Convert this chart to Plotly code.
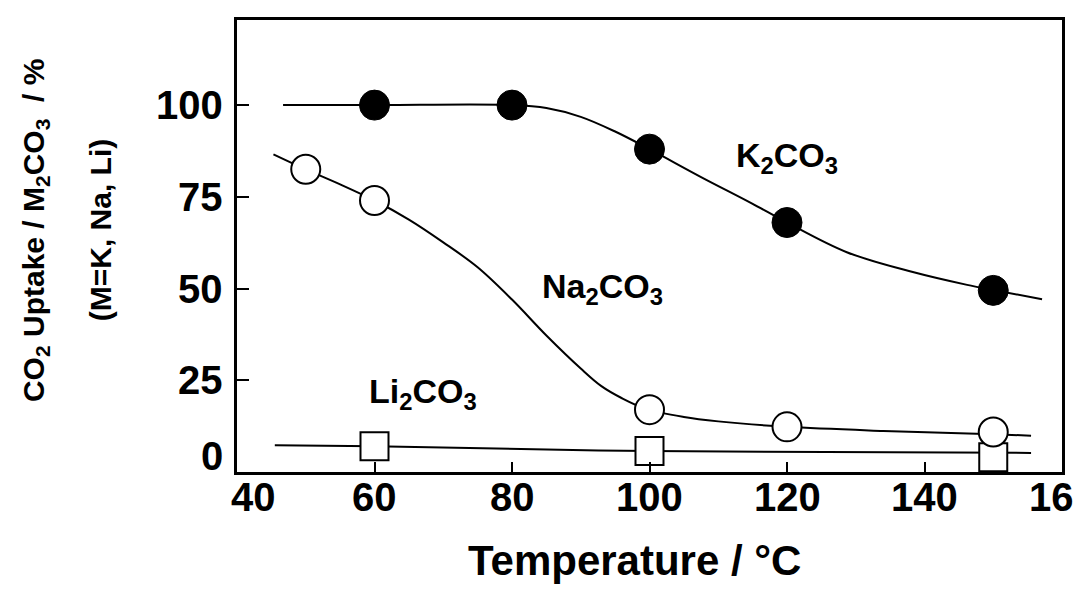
import plotly.graph_objects as go

# ---- data ----
temps_K = [60, 80, 100, 120, 150]
uptake_K = [100, 100, 88, 68, 49.5]
temps_Na = [50, 60, 100, 120, 150]
uptake_Na = [82.5, 74, 17, 12.3, 10.9]
temps_Li = [60, 100, 150]
uptake_Li = [7.0, 5.7, 4.0]

# hand-drawn guide curves
curveK_x = [46.7, 60, 80, 85, 90, 95, 100, 107.5, 114.8, 120, 128.7, 138.3, 146.2, 150, 157.1]
curveK_y = [100, 100, 100, 99.2, 96.8, 92.8, 88, 80.4, 73.3, 68, 59.9, 54.5, 51.0, 49.6, 47.1]
curveNa_x = [45.3, 50, 55, 60, 65, 70, 75, 80, 85, 90, 93, 96, 99.5, 105, 110, 120, 134, 150, 155.5]
curveNa_y = [86.6, 82.5, 78.4, 74, 68.8, 62.6, 55.8, 47.0, 37.2, 28.2, 23.4, 20.1, 17.2, 15.0, 13.8, 12.3, 11.2, 10.3, 9.9]
curveLi_x = [45.5, 60, 100, 155.5]
curveLi_y = [7.3, 7.0, 5.7, 5.2]

x_ticks = [40, 60, 80, 100, 120, 140, 160]
y_ticks = [0, 25, 50, 75, 100]

FONT = "Liberation Sans, Arial, Helvetica, sans-serif"

fig = go.Figure()

line_style = dict(color="black", width=2, shape="spline", smoothing=1.0)
fig.add_trace(go.Scatter(x=curveLi_x, y=curveLi_y, mode="lines", line=line_style, hoverinfo="skip"))
fig.add_trace(go.Scatter(x=curveNa_x, y=curveNa_y, mode="lines", line=line_style, hoverinfo="skip"))
fig.add_trace(go.Scatter(x=curveK_x, y=curveK_y, mode="lines", line=line_style, hoverinfo="skip"))

fig.add_trace(go.Scatter(x=temps_Li, y=uptake_Li, mode="markers",
                         marker=dict(symbol="square", size=28, color="white",
                                     line=dict(color="black", width=2))))
fig.add_trace(go.Scatter(x=temps_Na, y=uptake_Na, mode="markers",
                         marker=dict(symbol="circle", size=29, color="white",
                                     line=dict(color="black", width=2))))
fig.add_trace(go.Scatter(x=temps_K, y=uptake_K, mode="markers",
                         marker=dict(symbol="circle", size=30, color="black",
                                     line=dict(color="black", width=1))))

C = dict(xanchor="center", yanchor="middle", showarrow=False)

lab_font = dict(family=FONT, size=34, color="black")
fig.add_annotation(x=120, y=85.6, text="<b>K<sub>2</sub>CO<sub>3</sub></b>", font=lab_font, **C)
fig.add_annotation(x=93.2, y=50, text="<b>Na<sub>2</sub>CO<sub>3</sub></b>", font=lab_font, **C)
fig.add_annotation(x=67, y=21.5, text="<b>Li<sub>2</sub>CO<sub>3</sub></b>", font=lab_font, **C)

title_font = dict(family=FONT, size=30, color="black")
fig.add_annotation(xref="paper", yref="paper", x=-0.245, y=0.535, textangle=-90,
                   text="<b>CO<sub>2</sub> Uptake / M<sub>2</sub>CO<sub>3</sub>  / %</b>",
                   font=title_font, **C)
fig.add_annotation(xref="paper", yref="paper", x=-0.166, y=0.535, textangle=-90,
                   text="<b>(M=K, Na, Li)</b>", font=title_font, **C)
fig.add_annotation(xref="paper", yref="paper", x=0.482, y=-0.195,
                   text="<b>Temperature / °C</b>",
                   font=dict(family=FONT, size=42, color="black"), **C)

tick_font = dict(family=FONT, size=40, color="black")
for v in x_ticks:
    fig.add_annotation(x=v, xref="x", yref="paper", y=0, yshift=-25,
                       xshift=(16 if v == x_ticks[0] else 0),
                       text=f"<b>{v}</b>", font=tick_font,
                       xanchor="center", yanchor="middle", showarrow=False)
for v in y_ticks:
    fig.add_annotation(xref="paper", x=0, yref="y", y=v, xshift=-12,
                       yshift=(16 if v == y_ticks[0] else 0),
                       text=f"<b>{v}</b>", font=tick_font,
                       xanchor="right", yanchor="middle", showarrow=False)

# the page body has a default 8px margin; margins compensate so the box lands
# at x 237-1062, y 20-472 in the window
fig.update_layout(
    width=1082, height=596,
    margin=dict(l=229, r=28, t=12, b=132, autoexpand=False),
    paper_bgcolor="white", plot_bgcolor="white",
    showlegend=False,
    font=dict(family=FONT, color="black"),
)
fig.update_xaxes(range=[40, 160], tickvals=x_ticks, showticklabels=False,
                 ticks="inside", ticklen=10, tickwidth=2, tickcolor="black",
                 showline=True, linecolor="black", linewidth=2.5, mirror=True,
                 showgrid=False, zeroline=False, automargin=False)
fig.update_yaxes(range=[0, 123.2], tickvals=y_ticks, showticklabels=False,
                 ticks="inside", ticklen=12, tickwidth=2, tickcolor="black",
                 showline=True, linecolor="black", linewidth=2.5, mirror=True,
                 showgrid=False, zeroline=False, automargin=False)

fig.write_html("out.html")
